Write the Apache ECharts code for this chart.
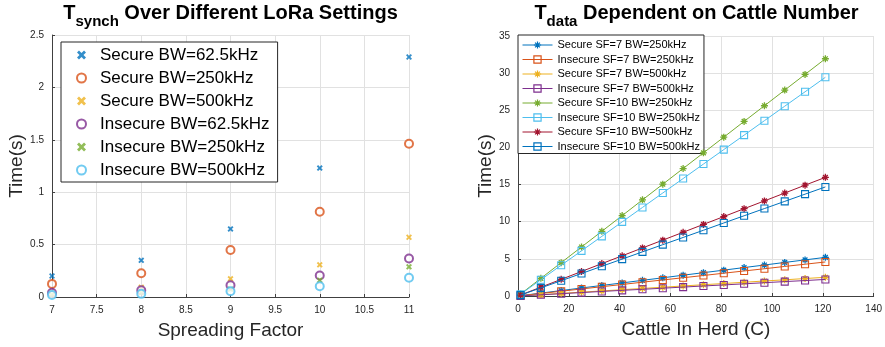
<!DOCTYPE html>
<html><head><meta charset="utf-8">
<script src="https://cdn.jsdelivr.net/npm/echarts@6/dist/echarts.min.js"></script>
<style>html,body{margin:0;padding:0;background:#fff}#c{width:885px;height:347px}</style>
</head><body><div id="c"></div>
<script>
// ---- Left chart data ----
const spreadingFactors = [7, 8, 9, 10, 11];
const secureBW625 = [0.20, 0.35, 0.65, 1.23, 2.29];
const secureBW250 = [0.125, 0.227, 0.449, 0.814, 1.462];
const secureBW500 = [0.05, 0.093, 0.173, 0.307, 0.57];
const insecureBW625 = [0.04, 0.065, 0.112, 0.205, 0.367];
const insecureBW250 = [0.02, 0.04, 0.075, 0.16, 0.288];
const insecureBW500 = [0.02, 0.03, 0.055, 0.103, 0.183];

// ---- Right chart data ----
const cattle = [1, 9, 17, 25, 33, 41, 49, 57, 65, 73, 81, 89, 97, 105, 113, 121];
const secureSF7BW250 = [0.04,0.39,0.73,1.08,1.42,1.76,2.11,2.45,2.8,3.14,3.48,3.83,4.17,4.52,4.86,5.2];
const insecureSF7BW250 = [0.04,0.34,0.64,0.95,1.25,1.55,1.86,2.16,2.46,2.76,3.07,3.37,3.67,3.98,4.28,4.58];
const secureSF7BW500 = [0.02,0.18,0.35,0.52,0.68,0.85,1.02,1.18,1.35,1.52,1.68,1.85,2.02,2.18,2.35,2.52];
const insecureSF7BW500 = [0.02,0.16,0.31,0.46,0.61,0.76,0.9,1.05,1.2,1.35,1.49,1.64,1.79,1.94,2.08,2.23];
const secureSF10BW250 = [0.26,2.38,4.49,6.6,8.71,10.82,12.94,15.05,17.16,19.27,21.38,23.5,25.61,27.72,29.83,31.94];
const insecureSF10BW250 = [0.24,2.19,4.14,6.08,8.03,9.98,11.92,13.87,15.81,17.76,19.71,21.65,23.6,25.55,27.49,29.44];
const secureSF10BW500 = [0.13,1.19,2.24,3.3,4.36,5.41,6.47,7.52,8.58,9.64,10.69,11.75,12.8,13.86,14.92,15.97];
const insecureSF10BW500 = [0.12,1.09,2.06,3.03,4.0,4.97,5.94,6.91,7.88,8.85,9.83,10.8,11.77,12.74,13.71,14.68];

const leftNames = ['Secure BW=62.5kHz','Secure BW=250kHz','Secure BW=500kHz','Insecure BW=62.5kHz','Insecure BW=250kHz','Insecure BW=500kHz'];
const rightNames = ['Secure SF=7 BW=250kHz','Insecure SF=7 BW=250kHz','Secure SF=7 BW=500kHz','Insecure SF=7 BW=500kHz','Secure SF=10 BW=250kHz','Insecure SF=10 BW=250kHz','Secure SF=10 BW=500kHz','Insecure SF=10 BW=500kHz'];
const leftTitle = ['T', 'synch', ' Over Different LoRa Settings'];
const rightTitle = ['T', 'data', ' Dependent on Cattle Number'];

const FONT = '"Liberation Sans", Arial, Helvetica, sans-serif';
const C = ['#0072BD','#D95319','#EDB120','#7E2F8E','#77AC30','#4DBEEE','#A2142F'];
const X_PATH = 'path://M0,2.2L2.2,0L5,2.8L7.8,0L10,2.2L7.2,5L10,7.8L7.8,10L5,7.2L2.2,10L0,7.8L2.8,5Z';
const AST_PATH = 'path://M5,0L5,10M0,5L10,5M1.6,1.6L8.4,8.4M8.4,1.6L1.6,8.4';
const SQ_PATH = 'path://M0,0L10,0L10,10L0,10Z';

function zip(xs, ys) { return xs.map((x, i) => [x, ys[i]]); }

const measureCtx = document.createElement('canvas').getContext('2d');
function textWidth(txt, size) {
  measureCtx.font = 'bold ' + size + 'px ' + FONT;
  return measureCtx.measureText(txt).width;
}
function titleGraphics(parts, cx) {
  const w = [textWidth(parts[0], 20), textWidth(parts[1], 15), textWidth(parts[2], 20)];
  const x0 = cx - (w[0] + w[1] + w[2]) / 2;
  const base = { fontWeight: 'bold', fontFamily: FONT, fill: '#000', align: 'left', verticalAlign: 'top' };
  return [
    { type: 'text', x: x0, y: 3, z: 100, style: Object.assign({}, base, { text: parts[0], fontSize: 20 }) },
    { type: 'text', x: x0 + w[0], y: 14, z: 100, style: Object.assign({}, base, { text: parts[1], fontSize: 15 }) },
    { type: 'text', x: x0 + w[0] + w[1], y: 3, z: 100, style: Object.assign({}, base, { text: parts[2], fontSize: 20 }) }
  ];
}

const axisCommon = {
  axisLine: { show: true, onZero: false, lineStyle: { color: '#404040', width: 1 } },
  axisTick: { show: true, inside: true, length: 3, lineStyle: { color: '#404040' } },
  axisLabel: { color: '#262626', fontSize: 10, fontFamily: FONT },
  splitLine: { show: true, lineStyle: { color: '#e1e1e1', width: 1 } },
  nameTextStyle: { color: '#262626', fontSize: 19, fontFamily: FONT },
  nameLocation: 'middle'
};

const leftValues = [secureBW625, secureBW250, secureBW500, insecureBW625, insecureBW250, insecureBW500];
const leftSeries = leftValues.map((vals, i) => {
  const isCircle = (i % 2 === 1);
  return {
    type: 'scatter', name: leftNames[i], xAxisIndex: 0, yAxisIndex: 0,
    data: zip(spreadingFactors, vals),
    symbol: isCircle ? 'emptyCircle' : X_PATH,
    symbolSize: isCircle ? 8 : 6,
    itemStyle: isCircle ? { color: C[i], borderColor: C[i], borderWidth: 2 } : { color: C[i] },
    emphasis: { disabled: true }, z: 2 + i
  };
});

const rightValues = [secureSF7BW250, insecureSF7BW250, secureSF7BW500, insecureSF7BW500, secureSF10BW250, insecureSF10BW250, secureSF10BW500, insecureSF10BW500];
const rightColors = [C[0], C[1], C[2], C[3], C[4], C[5], C[6], C[0]];
const rightSeries = rightValues.map((vals, i) => {
  const isStar = (i % 2 === 0);
  const col = rightColors[i];
  return {
    type: 'line', name: rightNames[i], xAxisIndex: 1, yAxisIndex: 1,
    data: zip(cattle, vals),
    symbol: isStar ? AST_PATH : SQ_PATH,
    symbolSize: 7,
    showAllSymbol: true,
    lineStyle: { color: col, width: 1 },
    itemStyle: { color: 'rgba(0,0,0,0)', borderColor: col, borderWidth: isStar ? 1.3 : 1.1 },
    emphasis: { disabled: true }, z: 2 + i
  };
});

const chart = echarts.init(document.getElementById('c'), null, { renderer: 'canvas' });
chart.setOption({
  animation: false,
  backgroundColor: '#fff',
  textStyle: { fontFamily: FONT },
  grid: [
    { left: 52, right: 476, top: 35, bottom: 50, containLabel: false },
    { left: 518, right: 10, top: 36, bottom: 51, containLabel: false }
  ],
  xAxis: [
    Object.assign({}, axisCommon, { gridIndex: 0, type: 'value', min: 7, max: 11, interval: 0.5, name: 'Spreading Factor', nameGap: 24 }),
    Object.assign({}, axisCommon, { gridIndex: 1, type: 'value', min: 0, max: 140, interval: 20, name: 'Cattle In Herd (C)', nameGap: 24 })
  ],
  yAxis: [
    Object.assign({}, axisCommon, { gridIndex: 0, type: 'value', min: 0, max: 2.5, interval: 0.5, name: 'Time(s)', nameGap: 20 }),
    Object.assign({}, axisCommon, { gridIndex: 1, type: 'value', min: 0, max: 35, interval: 5, name: 'Time(s)', nameGap: 19 })
  ],
  legend: [
    {
      data: leftNames, orient: 'vertical', left: 61, top: 42,
      padding: [3, 8, 2, 15], itemGap: 3, itemWidth: 9, itemHeight: 9,
      backgroundColor: '#fff', borderColor: '#262626', borderWidth: 1,
      textStyle: { fontSize: 17, lineHeight: 20, color: '#000', fontFamily: FONT, padding: [0, 0, 0, 9] },
      selectedMode: false
    },
    {
      data: rightNames, orient: 'vertical', left: 518, top: 35,
      padding: [4, 4, 1, 4], itemGap: 2.5, itemWidth: 30, itemHeight: 9,
      backgroundColor: '#fff', borderColor: '#262626', borderWidth: 1,
      lineStyle: { width: 1 },
      itemStyle: { borderWidth: 1.2 },
      textStyle: { fontSize: 11, lineHeight: 12, color: '#000', fontFamily: FONT },
      selectedMode: false
    }
  ],
  graphic: titleGraphics(leftTitle, 230.5).concat(titleGraphics(rightTitle, 696.5)),
  series: leftSeries.concat(rightSeries)
});
</script>
</body></html>
